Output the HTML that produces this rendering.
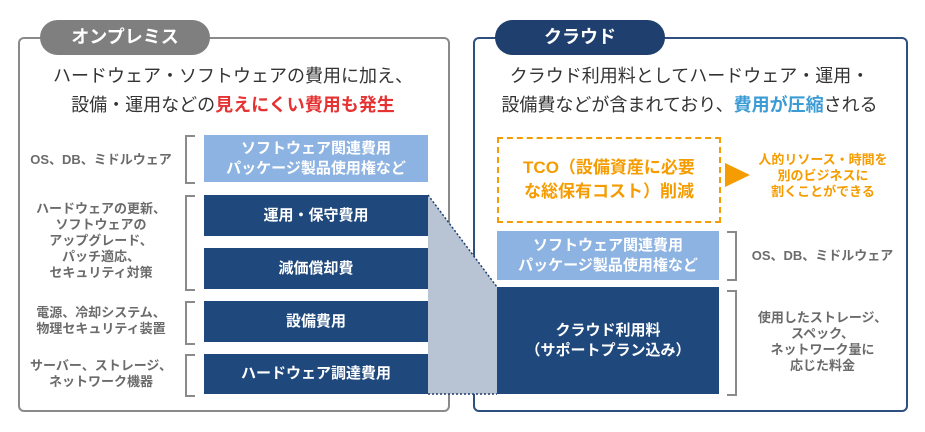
<!DOCTYPE html>
<html><head><meta charset="utf-8"><style>
body{margin:0;width:925px;height:432px;background:#fff;position:relative;overflow:hidden;font-family:"Liberation Sans","Noto Sans CJK JP",sans-serif}
.a{position:absolute}
.panel{border:2px solid #8a8a8a;border-radius:6px}
.tab{color:#fff;font-weight:bold;font-size:18px;text-align:center;line-height:35px;border-radius:18px}
.box{color:#fff;font-weight:bold;font-size:15px;text-align:center;display:flex;align-items:center;justify-content:center;line-height:20px}
.lb{background:#8db3e2}.db{background:#1f497d}
.lab{color:#6b6b6b;font-weight:bold;font-size:13px;text-align:center;line-height:16px;display:flex;align-items:center;justify-content:center}
.brL{border:2px solid #8a8a8a;border-right:none;width:8px}
.brR{border:2px solid #8a8a8a;border-left:none;width:8px}
.h{font-size:18px;color:#333;text-align:center;line-height:29px}
</style></head><body>
<div class="a panel" style="left:18px;top:37px;width:428px;height:371px"></div>
<div class="a tab" style="left:40px;top:20px;width:170px;height:35px;background:#7f7f7f">オンプレミス</div>
<div class="a h" style="left:18px;top:62px;width:430px">ハードウェア・ソフトウェアの費用に加え、<br>設備・運用などの<b style="color:#e53333">見えにくい費用も発生</b></div>

<div class="a panel" style="left:473px;top:37px;width:431px;height:371px;border-color:#2f4f7f"></div>
<div class="a tab" style="left:495px;top:20px;width:170px;height:35px;background:#1f3f6f">クラウド</div>
<div class="a h" style="left:473px;top:62px;width:433px">クラウド利用料としてハードウェア・運用・<br>設備費などが含まれており、<b style="color:#3a9bd5">費用が圧縮</b>される</div>

<svg class="a" style="left:0;top:0" width="925" height="432">
<polygon points="428,195 497,287 497,394 428,394" fill="#b8c4d4"/>
<polyline points="428,195 497,287" stroke="#1f3f6f" stroke-width="1.5" stroke-dasharray="2,2" fill="none"/>
<line x1="428" y1="394" x2="497" y2="394" stroke="#1f3f6f" stroke-width="1.5" stroke-dasharray="2,2"/>
<polygon points="725,163 750,175 725,187" fill="#f59c00"/>
</svg>

<div class="a box lb" style="left:204px;top:135px;width:224px;height:47px">ソフトウェア関連費用<br>パッケージ製品使用権など</div>
<div class="a box db" style="left:204px;top:195px;width:224px;height:41px">運用・保守費用</div>
<div class="a box db" style="left:204px;top:248px;width:224px;height:41px">減価償却費</div>
<div class="a box db" style="left:204px;top:301px;width:224px;height:41px">設備費用</div>
<div class="a box db" style="left:204px;top:354px;width:224px;height:40px">ハードウェア調達費用</div>

<div class="a brL" style="left:185px;top:135px;height:45px"></div>
<div class="a brL" style="left:185px;top:195px;height:92px"></div>
<div class="a brL" style="left:185px;top:301px;height:40px"></div>
<div class="a brL" style="left:185px;top:354px;height:39px"></div>
<div class="a lab" style="left:20px;top:140px;width:162px;height:40px">OS、DB、ミドルウェア</div>
<div class="a lab" style="left:20px;top:195px;width:162px;height:92px">ハードウェアの更新、<br>ソフトウェアの<br>アップグレード、<br>パッチ適応、<br>セキュリティ対策</div>
<div class="a lab" style="left:20px;top:301px;width:162px;height:40px">電源、冷却システム、<br>物理セキュリティ装置</div>
<div class="a lab" style="left:20px;top:354px;width:162px;height:39px">サーバー、ストレージ、<br>ネットワーク機器</div>

<div class="a box" style="left:497px;top:137px;width:220px;height:82px;border:2px dashed #f59c00;color:#f59c00;font-size:17px;line-height:24px">TCO（設備資産に必要<br>な総保有コスト）削減</div>
<div class="a lab" style="left:748px;top:148px;width:150px;height:55px;color:#f59c00">人的リソース・時間を<br>別のビジネスに<br>割くことができる</div>
<div class="a box lb" style="left:497px;top:231px;width:222px;height:49px">ソフトウェア関連費用<br>パッケージ製品使用権など</div>
<div class="a box db" style="left:497px;top:287px;width:222px;height:107px">クラウド利用料<br>（サポートプラン込み）</div>
<div class="a brR" style="left:727px;top:231px;height:46px"></div>
<div class="a brR" style="left:727px;top:290px;height:102px"></div>
<div class="a lab" style="left:740px;top:231px;width:165px;height:49px">OS、DB、ミドルウェア</div>
<div class="a lab" style="left:740px;top:290px;width:165px;height:104px">使用したストレージ、<br>スペック、<br>ネットワーク量に<br>応じた料金</div>
</body></html>
